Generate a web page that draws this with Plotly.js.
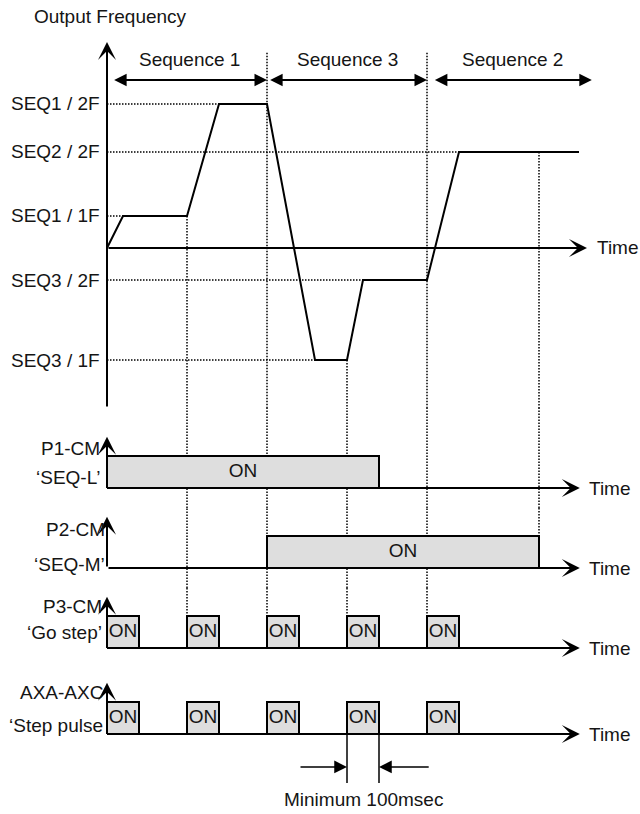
<!DOCTYPE html>
<html><head><meta charset="utf-8">
<script src="https://cdn.plot.ly/plotly-3.0.1.min.js"></script>
<style>body{margin:0;background:#fff}#chart{width:640px;height:814px}</style>
</head><body><div id="chart"></div>
<script>
// ---------------- data ----------------
const levelNames  = ['SEQ1 / 2F', 'SEQ2 / 2F', 'SEQ1 / 1F', 'SEQ3 / 2F', 'SEQ3 / 1F'];
const levelValues = [9, 6, 2, -2, -7];
const profileTime = [0, 0.2, 1, 1.4, 2, 2.6, 3, 3.2, 4, 4.4, 5.9];
const profileFreq = [0, 2, 2, 9, 9, -7, -7, -2, -2, 6, 6];
const stepTimes   = [1, 2, 3, 4, 5.4];
const seqNames = ['Sequence 1', 'Sequence 3', 'Sequence 2'];
const seqStart = [0.07, 2.02, 4.08];
const seqEnd   = [2.0, 4.0, 6.06];
const signalNames     = ['P1-CM', 'P2-CM', 'P3-CM', 'AXA-AXC'];
const signalFunctions = ['\u2018SEQ-L\u2019', '\u2018SEQ-M\u2019', '\u2018Go step\u2019', '\u2018Step pulse'];
const onStart = [[0], [2], [0, 1, 2, 3, 4], [0, 1, 2, 3, 4]];
const onEnd   = [[3.4], [5.4], [0.4, 1.4, 2.4, 3.4, 4.4], [0.4, 1.4, 2.4, 3.4, 4.4]];
const onLabel = 'ON';
const minPulse = [3, 3.4];
const minPulseLabel = 'Minimum 100msec';
const axisLabel = 'Time';
const titleText = 'Output Frequency';

// ---------------- layout geometry ----------------
const W = 640, H = 814;
const X0 = 107, PXT = 80;                 // time origin (px) and px per time unit
const tx = px => (px - X0) / PXT;
const FONT = "Liberation Sans, Arial, sans-serif";
const FS = 19;
const TXT = '#151515';
const panels = [
  {top: 40,  bottom: 408, range: [-10, 13]},
  {top: 408, bottom: 508, range: [-0.625, 2.5]},
  {top: 508, bottom: 588, range: [-0.625, 1.875]},
  {top: 588, bottom: 668, range: [-0.625, 1.875]},
  {top: 668, bottom: 814, range: [-2.5, 2.0625]}
];
const yName = i => i === 0 ? 'y' : 'y' + (i + 1);
const seqArrowY = 10.5, seqLabelY = 11.75, guideTop = 12.2, freqTip = 12.875;
const sigTip = 1.6;
const dotLine = {color: '#000', width: 1.5, dash: '1.5px,1.5px'};

const layout = {
  width: W, height: H, margin: {l: 0, r: 0, t: 0, b: 0},
  paper_bgcolor: '#fff', plot_bgcolor: 'rgba(0,0,0,0)', showlegend: false,
  font: {family: FONT, size: FS, color: TXT},
  title: {text: titleText, x: 34 / W, xanchor: 'left', xref: 'paper', y: 1 - 16 / H, yanchor: 'middle',
          font: {family: FONT, size: FS, color: TXT}},
  xaxis: {range: [tx(0), tx(W)], visible: false, fixedrange: true},
  shapes: [], annotations: []
};
panels.forEach((p, i) => {
  layout['yaxis' + (i === 0 ? '' : i + 1)] = {
    domain: [1 - p.bottom / H, 1 - p.top / H], range: p.range, visible: false, fixedrange: true, anchor: 'x'
  };
});

function arrow(x0, y0, x1, y1, yref, o) {
  return Object.assign({x: x1, y: y1, ax: x0, ay: y0, xref: 'x', yref: yref, axref: 'x', ayref: yref,
    text: '', showarrow: true, arrowhead: 3, arrowsize: 1.5, arrowwidth: 2, arrowcolor: '#000'}, o || {});
}
function label(text, x, y, yref, xanchor, o) {
  return Object.assign({text: text, x: x, y: y, xref: 'x', yref: yref, showarrow: false,
    xanchor: xanchor || 'center', yanchor: 'middle', font: {family: FONT, size: FS, color: TXT}}, o || {});
}
function profileAt(t) {
  for (let i = 1; i < profileTime.length; i++) {
    if (t <= profileTime[i]) {
      const a = profileTime[i - 1], b = profileTime[i];
      return profileFreq[i - 1] + (profileFreq[i] - profileFreq[i - 1]) * (t - a) / (b - a);
    }
  }
  return profileFreq[profileFreq.length - 1];
}

const traces = [];

// ---- frequency panel ----
levelValues.forEach((v, i) => {
  const idx = profileFreq.indexOf(v);
  layout.shapes.push({type: 'line', layer: 'below', xref: 'x', yref: 'y', x0: 0, x1: profileTime[idx], y0: v, y1: v, line: dotLine});
  layout.annotations.push(label(levelNames[i], tx(102), v, 'y', 'right'));
});
const seqBounds = seqEnd.slice(0, 2).map(v => Math.round(v));
const guideBottomPanel = stepTimes.map(t => (onEnd[1].indexOf(t) >= 0 ? 2 : 3));
stepTimes.forEach((t, g) => {
  const top = seqBounds.indexOf(t) >= 0 ? guideTop : profileAt(t);
  layout.shapes.push({type: 'line', layer: 'below', xref: 'x', yref: 'y', x0: t, x1: t, y0: top, y1: panels[0].range[0], line: dotLine});
  const bp = guideBottomPanel[g];
  for (let k = 1; k < bp; k++) {
    layout.shapes.push({type: 'line', layer: 'below', xref: 'x', yref: yName(k) + ' domain', x0: t, x1: t, y0: 0, y1: 1, line: dotLine});
  }
  const endVal = bp === 2 ? 0 : 1;
  layout.shapes.push({type: 'line', layer: 'below', xref: 'x', yref: yName(bp), x0: t, x1: t, y0: panels[bp].range[1], y1: endVal, line: dotLine});
});
traces.push({type: 'scatter', mode: 'lines', x: profileTime, y: profileFreq, xaxis: 'x', yaxis: 'y',
  line: {color: '#000', width: 2}, hoverinfo: 'skip'});
layout.annotations.push(arrow(0, panels[0].range[0], 0, freqTip, 'y'));
layout.annotations.push(arrow(0, 0, 6.0, 0, 'y'));
layout.annotations.push(label(axisLabel, tx(595), 0, 'y', 'left'));
seqNames.forEach((s, i) => {
  layout.annotations.push(arrow(seqStart[i], seqArrowY, seqEnd[i], seqArrowY, 'y',
    {arrowhead: 2, arrowside: 'end+start', startarrowhead: 2, arrowsize: 1.25, startarrowsize: 1.25}));
  layout.annotations.push(label(s, (seqStart[i] + seqEnd[i]) / 2, seqLabelY, 'y', 'center'));
});

// ---- signal panels ----
const nameY = [1.25, 1.19, 1.31, 1.31];
const funcY = [0.34, 0.12, 0.47, 0.28];
const labelRight = [102, 107, 104, 105];
signalNames.forEach((name, s) => {
  const yr = yName(s + 1);
  onStart[s].forEach((a, j) => {
    const b = onEnd[s][j];
    traces.push({type: 'scatter', mode: 'lines', x: [a, a, b, b, a], y: [0, 1, 1, 0, 0], xaxis: 'x', yaxis: yr,
      fill: 'toself', fillcolor: '#dedede', line: {color: '#000', width: 2}, hoverinfo: 'skip'});
    traces.push({type: 'scatter', mode: 'text', x: [(a + b) / 2], y: [0.5], text: [onLabel], xaxis: 'x', yaxis: yr,
      textposition: 'middle center', textfont: {family: FONT, size: FS, color: TXT}, hoverinfo: 'skip'});
  });
  layout.annotations.push(arrow(0, 0, 0, sigTip, yr));
  layout.annotations.push(arrow(0, 0, 5.91, 0, yr));
  layout.annotations.push(label(axisLabel, tx(587), 0, yr, 'left'));
  layout.annotations.push(label(name, tx(labelRight[s]), nameY[s], yr, 'right'));
  layout.annotations.push(label(signalFunctions[s], tx(labelRight[s]), funcY[s], yr, 'right'));
});

// ---- minimum pulse dimension ----
const yd = yName(4);
minPulse.forEach(t => {
  traces.push({type: 'scatter', mode: 'lines', x: [t, t], y: [0, -1.53], xaxis: 'x', yaxis: yd,
    line: {color: '#000', width: 1.5}, hoverinfo: 'skip'});
});
layout.annotations.push(arrow(2.4, -1.03, minPulse[0], -1.03, yd, {arrowhead: 2, arrowwidth: 1.5, arrowsize: 1.7}));
layout.annotations.push(arrow(4.04, -1.03, minPulse[1], -1.03, yd, {arrowhead: 2, arrowwidth: 1.5, arrowsize: 1.7}));
layout.annotations.push(label(minPulseLabel, (minPulse[0] + minPulse[1]) / 2, -2.06, yd, 'center'));

Plotly.newPlot('chart', traces, layout, {staticPlot: true, displayModeBar: false});
</script></body></html>
